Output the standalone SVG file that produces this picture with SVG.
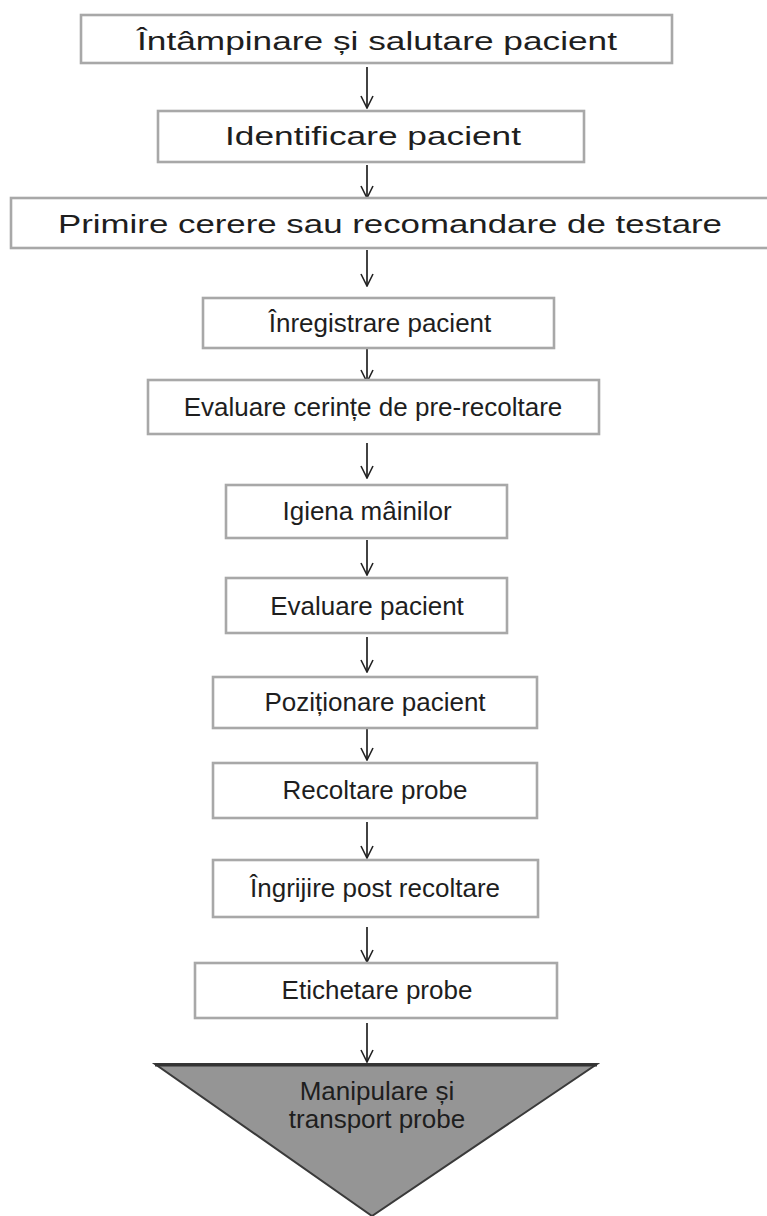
<svg xmlns="http://www.w3.org/2000/svg" width="767" height="1216" viewBox="0 0 767 1216">
<style>
.box{fill:#fff;stroke:#a8a8a8;stroke-width:2.6}
.t{font-family:"Liberation Sans",Arial,sans-serif;fill:#1e1e1e;text-anchor:middle}
.big{font-size:26px}
.sm{font-size:26px}
.conn{stroke:#222;stroke-width:1.7;fill:none}
</style>
<defs>
<marker id="ah" viewBox="0 0 14 14" refX="13" refY="7" markerWidth="14" markerHeight="14" markerUnits="userSpaceOnUse" orient="auto">
<path d="M1,1 L13,7 L1,13" fill="none" stroke="#222" stroke-width="1.6"/>
</marker>
</defs>
<rect width="767" height="1216" fill="#fff"/>
<g id="connectors">
<line class="conn" x1="367" y1="67" x2="367" y2="108" marker-end="url(#ah)"/>
<line class="conn" x1="367" y1="165" x2="367" y2="198" marker-end="url(#ah)"/>
<line class="conn" x1="367" y1="250" x2="367" y2="286" marker-end="url(#ah)"/>
<line class="conn" x1="367" y1="349" x2="367" y2="382" marker-end="url(#ah)"/>
<line class="conn" x1="367" y1="443" x2="367" y2="478" marker-end="url(#ah)"/>
<line class="conn" x1="367" y1="540" x2="367" y2="575" marker-end="url(#ah)"/>
<line class="conn" x1="367" y1="637" x2="367" y2="672" marker-end="url(#ah)"/>
<line class="conn" x1="367" y1="725" x2="367" y2="760" marker-end="url(#ah)"/>
<line class="conn" x1="367" y1="822" x2="367" y2="858" marker-end="url(#ah)"/>
<line class="conn" x1="367" y1="927" x2="367" y2="962" marker-end="url(#ah)"/>
<line class="conn" x1="367" y1="1023" x2="367" y2="1062" marker-end="url(#ah)"/>
</g>
<g id="n1"><rect class="box" x="81" y="15" width="591" height="48"/><text class="t big" x="377" y="50" textLength="480" lengthAdjust="spacingAndGlyphs">Întâmpinare și salutare pacient</text></g>
<g id="n2"><rect class="box" x="158" y="111" width="426" height="51"/><text class="t big" x="373" y="145" textLength="296" lengthAdjust="spacingAndGlyphs">Identificare pacient</text></g>
<g id="n3"><rect class="box" x="11" y="198" width="770" height="50"/><text class="t big" x="390" y="233" textLength="664" lengthAdjust="spacingAndGlyphs">Primire cerere sau recomandare de testare</text></g>
<g id="n4"><rect class="box" x="203" y="298" width="351" height="50"/><text class="t sm" x="380" y="332">Înregistrare pacient</text></g>
<g id="n5"><rect class="box" x="148" y="380" width="451" height="54"/><text class="t sm" x="373" y="416">Evaluare cerințe de pre-recoltare</text></g>
<g id="n6"><rect class="box" x="226" y="485" width="281" height="53"/><text class="t sm" x="367" y="520">Igiena mâinilor</text></g>
<g id="n7"><rect class="box" x="226" y="578" width="281" height="55"/><text class="t sm" x="367" y="615">Evaluare pacient</text></g>
<g id="n8"><rect class="box" x="213" y="677" width="324" height="51"/><text class="t sm" x="375" y="711">Poziționare pacient</text></g>
<g id="n9"><rect class="box" x="213" y="763" width="324" height="55"/><text class="t sm" x="375" y="799">Recoltare probe</text></g>
<g id="n10"><rect class="box" x="213" y="860" width="325" height="57"/><text class="t sm" x="375" y="897">Îngrijire post recoltare</text></g>
<g id="n11"><rect class="box" x="195" y="963" width="362" height="55"/><text class="t sm" x="377" y="999">Etichetare probe</text></g>
<g id="n12">
<polygon points="155,1064 597,1064 372,1216" fill="#959595" stroke="#3a3a3a" stroke-width="2"/>
<line x1="155" y1="1065" x2="597" y2="1065" stroke="#333" stroke-width="3"/>
<text class="t sm" x="377" y="1100">Manipulare și</text>
<text class="t sm" x="377" y="1128">transport probe</text>
</g>
</svg>
